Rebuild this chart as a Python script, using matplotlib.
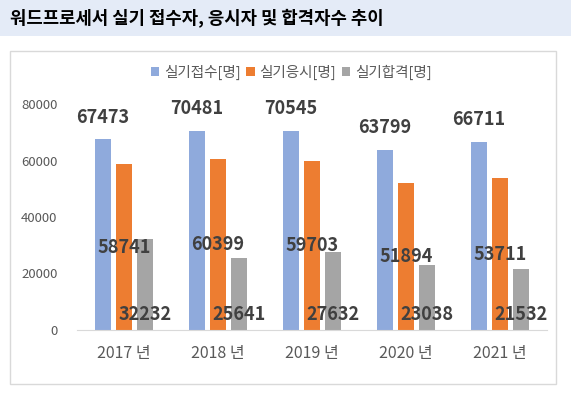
""" Word processor practical exam: applicants, test takers and passers by year. """

import numpy as np
import matplotlib.pyplot as plt
from matplotlib.patches import Rectangle

plt.rcParams['font.family'] = ['Noto Sans CJK KR', 'DejaVu Sans']

# Data
years = ["2017 년", "2018 년", "2019 년", "2020 년", "2021 년"]
applied = [67473, 70481, 70545, 63799, 66711]
tested = [58741, 60399, 59703, 51894, 53711]
passed = [32232, 25641, 27632, 23038, 21532]
series_names = ["실기접수[명]", "실기응시[명]", "실기합격[명]"]
yticks = [0, 20000, 40000, 60000, 80000]

colours = ["#8faadc", "#ed7d31", "#a5a5a5"]
label_colour = "#404040"
text_colour = "#595959"

fig = plt.figure(figsize=(5.71, 3.97), dpi=100)
W, H = 571, 397

# Title bar
fig.patches.append(Rectangle((0, 1 - 36 / H), 1, 36 / H, transform=fig.transFigure,
                             facecolor="#e4ebf7", edgecolor="none", zorder=-2))
fig.text(10 / W, 1 - 18 / H, "워드프로세서 실기 접수자, 응시자 및 합격자수 추이",
         fontsize=12.8, fontweight="bold", va="center", ha="left", color="black")

# Chart box
fig.patches.append(Rectangle((10 / W, 1 - 384 / H), 546 / W, 333 / H, transform=fig.transFigure,
                             facecolor="white", edgecolor="#d9d9d9", linewidth=1, zorder=-2))

ax = fig.add_axes([77 / W, 1 - 330 / H, 470 / W, 226 / H])
ax.set_facecolor("none")

x = np.arange(len(years))
pitch = 0.223
width = 0.175

ax.bar(x - pitch, applied, width, color=colours[0], label=series_names[0])
ax.bar(x, tested, width, color=colours[1], label=series_names[1])
ax.bar(x + pitch, passed, width, color=colours[2], label=series_names[2])

# Data labels: outside end, centre, inside base
for xi, v in zip(x - pitch, applied):
    ax.annotate(str(v), (xi, v), xytext=(0, 22), textcoords="offset pixels",
                ha="center", va="center", fontsize=13, fontweight="bold",
                color=label_colour, annotation_clip=False)
for xi, v in zip(x, tested):
    ax.annotate(str(v), (xi, v / 2), ha="center", va="center", fontsize=13,
                fontweight="bold", color=label_colour, annotation_clip=False)
for xi, v in zip(x + pitch, passed):
    ax.annotate(str(v), (xi, 0), xytext=(0, 16), textcoords="offset pixels",
                ha="center", va="center", fontsize=13, fontweight="bold",
                color=label_colour, annotation_clip=False)

# Axes formatting
ax.set_xlim(-0.5, len(years) - 0.5)
ax.set_ylim(0, 80000)
ax.set_xticks(x)
ax.set_xticklabels(years, fontsize=11.5, color=text_colour)
ax.set_yticks(yticks)
ax.set_yticklabels([str(t) for t in yticks], fontsize=9.5, color=text_colour)
ax.tick_params(axis="both", length=0)
ax.tick_params(axis="x", pad=11)
ax.tick_params(axis="y", pad=14)
for side in ["left", "right", "top"]:
    ax.spines[side].set_visible(False)
ax.spines["bottom"].set_color("#d9d9d9")

# Legend
fig.legend(loc="center", bbox_to_anchor=(291 / W, 1 - 72 / H), ncol=3, frameon=False,
           fontsize=10.5, handlelength=0.6, handleheight=0.6, handletextpad=0.3,
           columnspacing=0.4, labelcolor=text_colour)

plt.savefig("out.png", dpi=100)
